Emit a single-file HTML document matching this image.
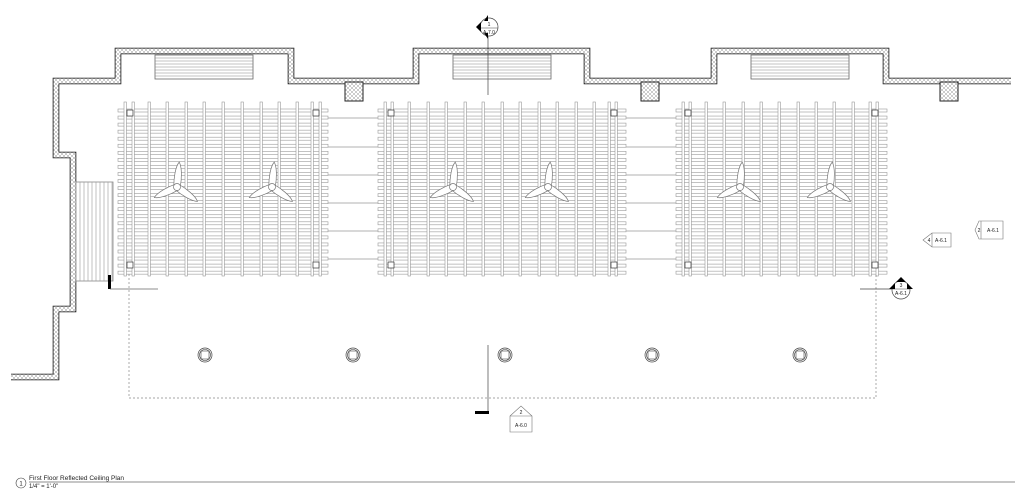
<!DOCTYPE html>
<html><head><meta charset="utf-8"><style>
html,body{margin:0;padding:0;background:#fff;}
svg{display:block;}
text{font-family:"Liberation Sans",sans-serif;fill:#222;}
</style></head><body>
<svg id="s" width="1024" height="493" viewBox="0 0 1024 493" xmlns="http://www.w3.org/2000/svg">
<defs>
<pattern id="h" width="4" height="4" patternUnits="userSpaceOnUse">
<rect width="4" height="4" fill="#fff"/>
<path d="M0,0 L4,4 M4,0 L0,4" stroke="#999" stroke-width="0.5"/>
</pattern>
</defs>
<g id="g"></g>
<!-- wall -->
<path d="M11,377 L56,377 L56,309 L73,309 L73,155 L56,155 L56,81 L118,81 L118,51 L291,51 L291,81 L416,81 L416,51 L587,51 L587,81 L714,81 L714,51 L886,51 L886,81 L1011,81" fill="none" stroke="#111" stroke-width="6.6"/>
<path d="M11,377 L56,377 L56,309 L73,309 L73,155 L56,155 L56,81 L118,81 L118,51 L291,51 L291,81 L416,81 L416,51 L587,51 L587,81 L714,81 L714,51 L886,51 L886,81 L1011,81" fill="none" stroke="url(#h)" stroke-width="5"/>
<rect x="345" y="82" width="18" height="19" fill="url(#h)" stroke="#222" stroke-width="1"/>
<rect x="641" y="82" width="18" height="19" fill="url(#h)" stroke="#222" stroke-width="1"/>
<rect x="940" y="82" width="18" height="19" fill="url(#h)" stroke="#222" stroke-width="1"/>
<!-- stair -->
<rect x="76" y="182" width="37" height="99" fill="#fff" stroke="#888" stroke-width="0.8"/>
<g id="st"></g>
<rect x="108" y="275" width="3" height="14" fill="#000"/>
<line x1="110" y1="289" x2="158" y2="289" stroke="#666" stroke-width="0.7"/>
<!-- dashed rect -->
<path d="M129,274 L129,398 L876,398 L876,274" fill="none" stroke="#888" stroke-width="0.7" stroke-dasharray="2,2"/>
<!-- section lines -->
<line x1="488" y1="27" x2="488" y2="95" stroke="#444" stroke-width="0.7"/>
<circle cx="489" cy="27" r="9" fill="#fff" stroke="#444" stroke-width="0.7"/>
<line x1="480" y1="28" x2="498" y2="28" stroke="#444" stroke-width="0.5"/>
<path d="M488,15 L488,21 L484,21 Z M488,39 L488,33 L484,33 Z M476,27 L481,22 L481,32 Z" fill="#000"/>
<text x="489" y="26" font-size="5" text-anchor="middle">1</text>
<text x="489" y="34" font-size="5" text-anchor="middle">A-7.0</text>
<line x1="488" y1="345" x2="488" y2="412" stroke="#444" stroke-width="0.7"/>
<rect x="475" y="411" width="14" height="3" fill="#000"/>
<path d="M510,416 L521,406 L532,416 L532,432 L510,432 Z M510,416 L532,416" fill="#fff" stroke="#777" stroke-width="0.6"/>
<text x="521" y="414" font-size="5" text-anchor="middle">2</text>
<text x="521" y="427" font-size="5" text-anchor="middle">A-6.0</text>
<!-- right tags -->
<path d="M923,240 L932,233 L951,233 L951,247 L932,247 Z M932,233 L932,247" fill="#fff" stroke="#777" stroke-width="0.6"/>
<text x="929" y="242" font-size="5" text-anchor="middle">4</text>
<text x="941" y="242" font-size="5" text-anchor="middle">A-6.1</text>
<path d="M975,230 L979,221 L1003,221 L1003,239 L979,239 Z M981,221 L981,239" fill="#fff" stroke="#777" stroke-width="0.6"/>
<text x="979" y="232" font-size="5" text-anchor="middle">2</text>
<text x="993" y="232" font-size="5" text-anchor="middle">A-6.1</text>
<line x1="860" y1="289" x2="901" y2="289" stroke="#444" stroke-width="0.7"/>
<circle cx="901" cy="290" r="9" fill="#fff" stroke="#444" stroke-width="0.7"/>
<line x1="892" y1="289" x2="910" y2="289" stroke="#444" stroke-width="0.5"/>
<path d="M889,289 L895,289 L895,283 Z M913,289 L907,289 L907,283 Z M901,277 L896,282 L906,282 Z" fill="#000"/>
<text x="901" y="287" font-size="5" text-anchor="middle">3</text>
<text x="901" y="295" font-size="5" text-anchor="middle">A-6.1</text>
<!-- title -->
<circle cx="21" cy="483" r="5" fill="#fff" stroke="#444" stroke-width="0.6"/>
<text x="21" y="485.5" font-size="6" text-anchor="middle">1</text>
<text x="29" y="480" font-size="6.5">First Floor Reflected Ceiling Plan</text>
<text x="29" y="488" font-size="6">1/4" = 1'-0"</text>
<line x1="29" y1="482" x2="1015" y2="482" stroke="#666" stroke-width="0.7"/>
</svg>
<script>
var NS="http://www.w3.org/2000/svg",g=document.getElementById("g");
function el(t,a,p){var e=document.createElementNS(NS,t);for(var k in a)e.setAttribute(k,a[k]);(p||g).appendChild(e);return e;}
[155,453,751].forEach(function(x){
 el("rect",{x:x,y:55,width:98,height:24,fill:"#fff",stroke:"#666","stroke-width":0.8});
 for(var y=58;y<79;y+=3)el("line",{x1:x,y1:y,x2:x+98,y2:y,stroke:"#888","stroke-width":0.6});
});
var st=document.getElementById("st");
for(var x=80;x<113;x+=4)el("line",{x1:x,y1:182,x2:x,y2:281,stroke:"#999","stroke-width":0.6},st);
[118,147,175,203,231,259].forEach(function(y){
 el("line",{x1:320,y1:y,x2:386,y2:y,stroke:"#999","stroke-width":0.7});
 el("line",{x1:616,y1:y,x2:684,y2:y,stroke:"#999","stroke-width":0.7});
});
function perg(x0,x1,vs,pl,pr){
 for(var i=0;i<24;i++){var y=109+i*7.05;
  el("rect",{x:x0,y:y,width:x1-x0,height:3,fill:"#fff",stroke:"#999","stroke-width":0.6});}
 vs.forEach(function(x){el("rect",{x:x-1,y:102,width:2.4,height:174,fill:"#fff",stroke:"#999","stroke-width":0.6});});
 [pl,pr].forEach(function(x){[113,265].forEach(function(y){
  el("rect",{x:x-3,y:y-3,width:6,height:6,fill:"#fff",stroke:"#333","stroke-width":0.7});});});
}
perg(118,328,[125,133,149,167,186,204,223,242,261,279,297,312,320],130,316);
perg(378,626,[385,392,409,428,446,465,483,502,520,539,557,576,594,609,616],391,614);
perg(676,887,[683,690,706,724,743,761,779,798,816,834,853,870,877],688,875);
function fan(cx,cy){
 var gg=el("g",{transform:"translate("+cx+","+cy+")"});
 [5,125,245].forEach(function(a){
  el("path",{d:"M-3.2,0 C-4,-8 -3.5,-20 0,-25 C3.5,-20 4,-8 3.2,0 Z",fill:"#fff",stroke:"#777","stroke-width":0.7,transform:"rotate("+a+")"},gg);});
 el("circle",{r:3.5,fill:"#fff",stroke:"#777","stroke-width":0.7},gg);
}
[[177,187],[272,187],[453,187],[548,187],[740,187],[830,187]].forEach(function(p){fan(p[0],p[1]);});
[205,353,505,652,800].forEach(function(x){
 el("circle",{cx:x,cy:355,r:7,fill:"#fff",stroke:"#444","stroke-width":0.7});
 el("circle",{cx:x,cy:355,r:5.5,fill:"none",stroke:"#444","stroke-width":0.6});
 el("rect",{x:x-4,y:351,width:8,height:8,fill:"none",stroke:"#444","stroke-width":0.6});
});
</script>
</body></html>
